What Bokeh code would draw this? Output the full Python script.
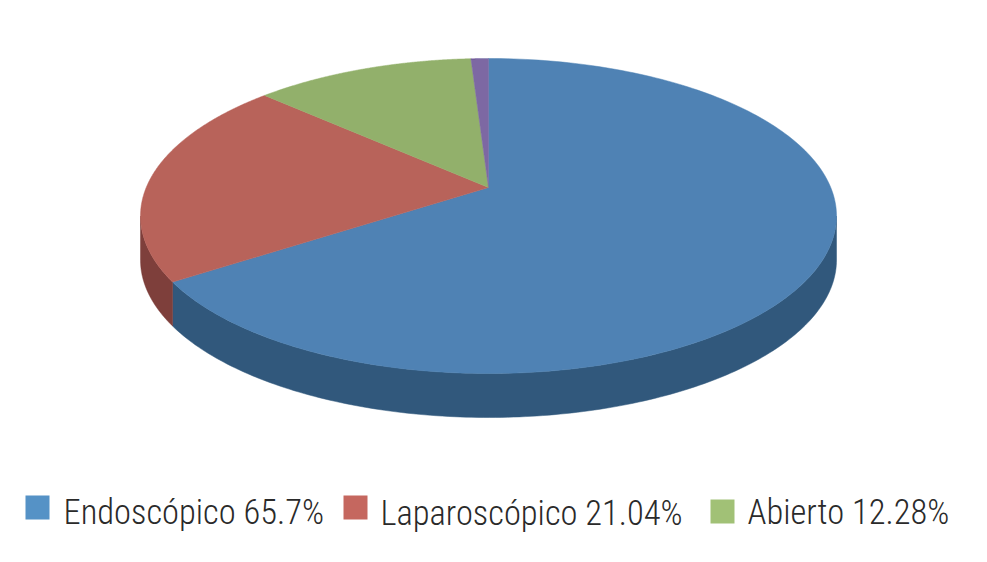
import numpy as np
from bokeh.plotting import figure
from bokeh.models import Range1d, ColumnDataSource
from bokeh.core.properties import value
from bokeh.embed import file_html
from bokeh.resources import INLINE

# data
categories = ["Endoscópico", "Laparoscópico", "Abierto", "Otros"]
shares = [65.7, 21.04, 12.28, 0.98]
legend_labels = ["Endoscópico 65.7%", "Laparoscópico 21.04%", "Abierto 12.28%"]
top_colors = ["#4F82B4", "#B8635A", "#92B06B", "#7D68A3"]
side_colors = ["#31587C", "#7E3F3B", "#64794A", "#54456F"]
swatch_colors = ["#5592C6", "#C5675F", "#A1C176"]

# geometry, in page pixels
CX, CY, RX, RY = 488.0, 215.5, 348.0, 157.5
APEX_Y = 187.0
DEPTH = 44.0
apex_off = (CY - APEX_Y) / RY


def rim_param(frac):
    """Clockwise-from-top parameter of the rim point hit by the ray from the apex."""
    a = 2 * np.pi * frac
    dx, dy = np.sin(a), np.cos(a)
    b = apex_off * dy
    t = -b + np.sqrt(b * b + 1 - apex_off ** 2)
    return np.arctan2(dx * t, apex_off + dy * t) % (2 * np.pi)


def rim(th):
    return CX + RX * np.sin(th), CY - RY * np.cos(th)


fr = np.concatenate([[0], np.cumsum(shares) / np.sum(shares)])
params = [0.0]
for f in fr[1:-1]:
    params.append(rim_param(f))
params.append(2 * np.pi)

p = figure(width=971, height=546, x_range=Range1d(0, 971), y_range=Range1d(546, 0),
           output_backend="svg", toolbar_location=None, min_border=0,
           outline_line_color=None, background_fill_color="white", border_fill_color="white")
p.axis.visible = False
p.grid.visible = False

# sides: only the front half of the rim shows
for i in range(len(shares)):
    lo = max(params[i], np.pi / 2)
    hi = min(params[i + 1], 3 * np.pi / 2)
    if hi <= lo:
        continue
    th = np.linspace(lo, hi, 160)
    x, y = rim(th)
    p.patch(np.concatenate([x, x[::-1]]), np.concatenate([y, (y + DEPTH)[::-1]]),
            fill_color=side_colors[i], line_color=side_colors[i], line_width=0.5)

# top faces
for i in range(len(shares)):
    th = np.linspace(params[i], params[i + 1], 240)
    x, y = rim(th)
    p.patch(np.concatenate([[CX], x]), np.concatenate([[APEX_Y], y]),
            fill_color=top_colors[i], line_color=top_colors[i], line_width=0.5)

# legend
leg = ColumnDataSource(dict(
    sx=[37, 355, 722], sy=[507, 507, 511], c=swatch_colors,
    tx=[63, 380, 747], ty=[511, 512, 511], t=legend_labels))
p.rect("sx", "sy", width=24, height=24, fill_color="c", line_color=None, source=leg)
p.text("tx", "ty", text="t", source=leg, text_font=value("Roboto Condensed Light"),
       text_font_size="34.5px", text_color="#2a2a2a", text_baseline="alphabetic", text_align="left")

open("out.html", "w").write(file_html(p, INLINE))
